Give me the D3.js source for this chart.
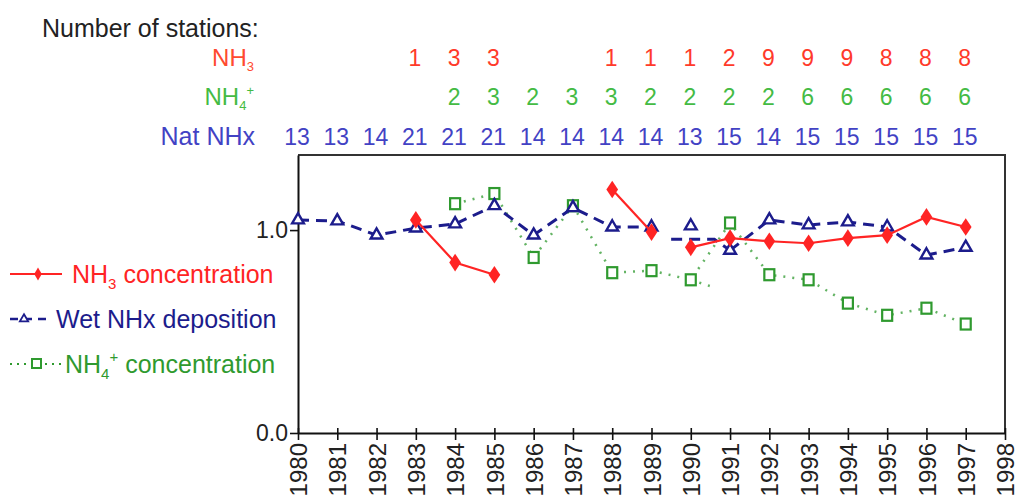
<!DOCTYPE html>
<html>
<head>
<meta charset="utf-8">
<script src="https://cdn.jsdelivr.net/npm/d3@7"></script>
<style>
  html, body { margin: 0; padding: 0; background: #fff; }
  svg { display: block; font-family: "Liberation Sans", Arial, sans-serif; }
</style>
</head>
<body>
<svg id="chart" width="1015" height="500"></svg>
<script>
// ---- data ----
const years = [1980,1981,1982,1983,1984,1985,1986,1987,1988,1989,1990,1991,1992,1993,1994,1995,1996,1997];
const axisYears = [1980,1981,1982,1983,1984,1985,1986,1987,1988,1989,1990,1991,1992,1993,1994,1995,1996,1997,1998];
const yTicks = [0.0, 1.0];

const nh3Conc = [null,null,null,1.05,0.84,0.78,null,null,1.20,0.99,0.915,0.96,0.945,0.935,0.96,0.975,1.065,1.015];
const nh3Breaks = [1989];
const wetNHx = [1.05,1.045,0.975,1.01,1.03,1.12,0.975,1.11,1.015,1.015,1.02,0.90,1.05,1.025,1.04,1.015,0.877,0.915];
const wetBreaks = [1989,1990];
const wetBridgeX = [1989.5,1990.6,1991];
const wetBridgeY = [0.955,0.955,0.90];
const nh4Conc = [null,null,null,null,1.13,1.18,0.865,1.12,0.79,0.80,0.755,1.035,0.78,0.755,0.64,0.58,0.615,0.537];
const nh4StubX = [1990,1990.55];
const nh4StubY = [0.755,0.72];

const nStationsNH3 = [null,null,null,1,3,3,null,null,1,1,1,2,9,9,9,8,8,8];
const nStationsNH4 = [null,null,null,null,2,3,2,3,3,2,2,2,2,6,6,6,6,6];
const nStationsNHx = [13,13,14,21,21,21,14,14,14,14,13,15,14,15,15,15,15,15];

// ---- layout ----
const svg = d3.select("#chart");
const pL = 298, pR = 1005, pT = 155, pB = 433;
const x = d3.scaleLinear().domain([1980, 1998]).range([pL, pR]);
const y = d3.scaleLinear().domain([0, 1.37]).range([pB, pT]);

const RED = "#ff2424", NAVY = "#1c1c8c", GREEN = "#2f9a2f";

// frame (top & right)
svg.append("path")
  .attr("d", `M${pL},${pT}H${pR}V${pB}`)
  .attr("fill", "none").attr("stroke", "#333").attr("stroke-width", 2);

// x axis
const xAxis = svg.append("g").attr("transform", `translate(0,${pB})`)
  .call(d3.axisBottom(x).tickValues(axisYears).tickFormat(d3.format("d")).tickSize(7).tickSizeOuter(0));
xAxis.select(".domain").attr("stroke", "#111").attr("stroke-width", 2);
xAxis.selectAll(".tick line").attr("stroke", "#111").attr("stroke-width", 1.6).attr("y1", -5);
xAxis.selectAll(".tick text")
  .attr("font-size", 24).attr("fill", "#222")
  .attr("text-anchor", "end")
  .attr("transform", "rotate(-90)")
  .attr("x", -10).attr("y", 0).attr("dy", "0.36em");

// y axis
const yAxis = svg.append("g").attr("transform", `translate(${pL},0)`)
  .call(d3.axisLeft(y).tickValues(yTicks).tickFormat(d3.format(".1f")).tickSize(8).tickSizeOuter(0));
yAxis.select(".domain").attr("stroke", "#111").attr("stroke-width", 2);
yAxis.selectAll(".tick line").attr("stroke", "#111").attr("stroke-width", 1.6);
yAxis.selectAll(".tick text").attr("font-size", 23).attr("fill", "#222").attr("x", -10);

// helpers
function segments(vals, breaks) {
  const segs = []; let cur = [];
  years.forEach((yr, i) => {
    if (vals[i] == null) { if (cur.length) segs.push(cur); cur = []; return; }
    cur.push([yr, vals[i]]);
    if (breaks.includes(yr)) { segs.push(cur); cur = []; }
  });
  if (cur.length) segs.push(cur);
  return segs;
}
const line = d3.line().x(d => x(d[0])).y(d => y(d[1]));
const pts = vals => years.map((yr, i) => [yr, vals[i]]).filter(d => d[1] != null);

// NH4+ concentration (green dotted, open squares)
const gG = svg.append("g");
segments(nh4Conc, []).forEach(s => gG.append("path").attr("d", line(s))
  .attr("fill", "none").attr("stroke", GREEN).attr("stroke-width", 2.5).attr("stroke-dasharray", "2,7").attr("opacity", 0.75));
gG.append("path").attr("d", line(nh4StubX.map((v, i) => [v, nh4StubY[i]])))
  .attr("fill", "none").attr("stroke", GREEN).attr("stroke-width", 2.5).attr("stroke-dasharray", "2,7").attr("opacity", 0.75);
gG.selectAll("rect").data(pts(nh4Conc)).join("rect")
  .attr("x", d => x(d[0]) - 5).attr("y", d => y(d[1]) - 5.5).attr("width", 10).attr("height", 11)
  .attr("fill", "#fff").attr("stroke", GREEN).attr("stroke-width", 2.2);

// Wet NHx deposition (navy dashed, open triangles)
const gB = svg.append("g");
segments(wetNHx, wetBreaks).forEach(s => { if (s.length > 1) gB.append("path").attr("d", line(s))
  .attr("fill", "none").attr("stroke", NAVY).attr("stroke-width", 3).attr("stroke-dasharray", "11,7"); });
gB.append("path").attr("d", line(wetBridgeX.map((v, i) => [v, wetBridgeY[i]])))
  .attr("fill", "none").attr("stroke", NAVY).attr("stroke-width", 3).attr("stroke-dasharray", "11,7");
const tri = d3.symbol().type(d3.symbolTriangle).size(60);
gB.selectAll("path.m").data(pts(wetNHx)).join("path").attr("class", "m")
  .attr("d", tri).attr("transform", d => `translate(${x(d[0])},${y(d[1])})`)
  .attr("fill", "#fff").attr("stroke", NAVY).attr("stroke-width", 2.4);

// NH3 concentration (red solid, filled diamonds)
const gR = svg.append("g");
segments(nh3Conc, nh3Breaks).forEach(s => gR.append("path").attr("d", line(s))
  .attr("fill", "none").attr("stroke", RED).attr("stroke-width", 2.2));
const dia = d3.symbol().type(d3.symbolDiamond).size(90);
gR.selectAll("path.m").data(pts(nh3Conc)).join("path").attr("class", "m")
  .attr("d", dia).attr("transform", d => `translate(${x(d[0])},${y(d[1])}) scale(1.15,1)`)
  .attr("fill", RED);

// ---- station counts ----
svg.append("text").attr("x", 42).attr("y", 37).attr("font-size", 25).attr("fill", "#222").text("Number of stations:");

svg.append("text").attr("x", 254).attr("y", 66).attr("text-anchor", "end").attr("font-size", 24).attr("fill", "#ff4a30")
  .call(t => { t.append("tspan").text("NH"); t.append("tspan").attr("font-size", 13).attr("dy", 5).text("3"); });
svg.append("text").attr("x", 254).attr("y", 105).attr("text-anchor", "end").attr("font-size", 24).attr("fill", "#44bb44")
  .call(t => { t.append("tspan").text("NH"); t.append("tspan").attr("font-size", 13).attr("dy", 5).text("4");
               t.append("tspan").attr("font-size", 13).attr("dy", -15).text("+"); });
svg.append("text").attr("x", 255).attr("y", 145).attr("text-anchor", "end").attr("font-size", 25).attr("fill", "#4242c4").text("Nat NHx");

function countRow(vals, yb, color) {
  svg.append("g").selectAll("text").data(years.map((yr, i) => [yr, vals[i]]).filter(d => d[1] != null)).join("text")
    .attr("x", d => x(d[0]) - 1).attr("y", yb).attr("text-anchor", "middle")
    .attr("font-size", 23).attr("fill", color).text(d => d[1]);
}
countRow(nStationsNH3, 66, "#ff3a2a");
countRow(nStationsNH4, 105, "#44bb44");
countRow(nStationsNHx, 145, "#4242c4");

// ---- legend ----
const lg = svg.append("g");
// NH3
lg.append("line").attr("x1", 10).attr("x2", 62).attr("y1", 274).attr("y2", 274).attr("stroke", RED).attr("stroke-width", 2.2);
lg.append("path").attr("d", d3.symbol().type(d3.symbolDiamond).size(50)).attr("transform", "translate(38,274)").attr("fill", RED);
lg.append("text").attr("x", 72).attr("y", 283).attr("font-size", 25).attr("fill", RED)
  .call(t => { t.append("tspan").text("NH"); t.append("tspan").attr("font-size", 15).attr("dy", 6).text("3");
               t.append("tspan").attr("dy", -6).text(" concentration"); });
// Wet NHx
lg.append("line").attr("x1", 10).attr("x2", 50).attr("y1", 319).attr("y2", 319).attr("stroke", NAVY).attr("stroke-width", 2.5).attr("stroke-dasharray", "8,6");
lg.append("path").attr("d", d3.symbol().type(d3.symbolTriangle).size(30)).attr("transform", "translate(24,319)")
  .attr("fill", "#fff").attr("stroke", NAVY).attr("stroke-width", 1.8);
lg.append("text").attr("x", 56).attr("y", 328).attr("font-size", 25).attr("fill", NAVY).text("Wet NHx deposition");
// NH4+
lg.append("line").attr("x1", 10).attr("x2", 65).attr("y1", 364).attr("y2", 364).attr("stroke", GREEN).attr("stroke-width", 2.2).attr("stroke-dasharray", "2,5");
lg.append("rect").attr("x", 32).attr("y", 359).attr("width", 9).attr("height", 9).attr("fill", "#fff").attr("stroke", GREEN).attr("stroke-width", 2);
lg.append("text").attr("x", 65).attr("y", 373).attr("font-size", 25).attr("fill", GREEN)
  .call(t => { t.append("tspan").text("NH"); t.append("tspan").attr("font-size", 15).attr("dy", 6).text("4");
               t.append("tspan").attr("font-size", 15).attr("dy", -17).text("+");
               t.append("tspan").attr("dy", 11).text(" concentration"); });
</script>
</body>
</html>
